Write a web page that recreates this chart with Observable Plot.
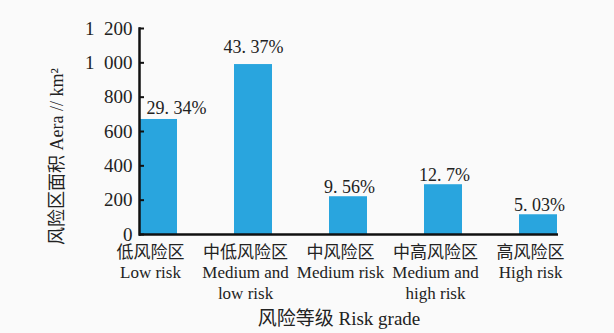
<!DOCTYPE html>
<html><head><meta charset="utf-8">
<script src="https://cdn.jsdelivr.net/npm/d3@7"></script>
<script src="https://cdn.jsdelivr.net/npm/@observablehq/plot@0.6"></script>
<style>body{margin:0;background:#fafafa;} svg{display:block}</style>
</head><body><div id="chart"></div>
<script>
const categoriesZh = ["低风险区","中低风险区","中风险区","中高风险区","高风险区"];
const categoriesEn = ["Low risk","Medium and\nlow risk","Medium risk","Medium and\nhigh risk","High risk"];
const areas = [670, 990, 220, 290, 115];
const shares = ["29. 34%","43. 37%","9. 56%","12. 7%","5. 03%"];
const yTicks = [0,200,400,600,800,1000,1200];
const yTickLabels = ["0","200","400","600","800","1\u2002000","1\u2002200"];
const yTitle = "风险区面积 Aera // km²";
const xTitle = "风险等级 Risk grade";

const data = categoriesZh.map((zh,i)=>({zh, en: categoriesEn[i], area: areas[i], share: shares[i], i}));
const font = "'Liberation Serif', 'Noto Sans CJK SC', serif";
const ink = "#222";

const chart = Plot.plot({
  width: 614, height: 333,
  marginLeft: 139, marginRight: 56, marginTop: 28, marginBottom: 99,
  x: {domain: categoriesZh, paddingInner: 0.6, paddingOuter: 0, axis: null},
  y: {domain: [0, 1200], axis: null},
  style: {fontFamily: font, fontSize: "17px", background: "#fafafa", color: ink},
  marks: [
    Plot.barY(data, {x: "zh", y: "area", fill: "#29a5de"}),
    Plot.ruleY([0], {stroke: "#111", strokeWidth: 2.5}),
    Plot.frame({anchor: "left", stroke: "#111", strokeWidth: 2.5}),
    Plot.axisY(yTicks, {tickSize: -5, tickPadding: 12, strokeWidth: 2, stroke: "#111",
      tickFormat: d => yTickLabels[yTicks.indexOf(d)], fontSize: 19, fill: ink, label: null}),
    Plot.text(data.filter(d => d.i === 0), {x: "zh", y: "area", text: "share", lineAnchor: "bottom", dy: -5, dx: 18, fill: ink, fontSize: 18}),
    Plot.text(data.filter(d => d.i === 1), {x: "zh", y: "area", text: "share", lineAnchor: "bottom", dy: -12, fill: ink, fontSize: 18}),
    Plot.text(data.filter(d => d.i > 1), {x: "zh", y: "area", text: "share", lineAnchor: "bottom", dy: -4, dx: 1, fill: ink, fontSize: 18}),
    Plot.text(data, {x: "zh", text: d => d.zh + "\n" + d.en, frameAnchor: "bottom", lineAnchor: "top", dy: 9, dx: -8, lineHeight: 1.2, fill: ink}),
    Plot.text([yTitle], {frameAnchor: "left", textAnchor: "middle", rotate: -90, dx: -82, dy: 25, fill: ink, fontSize: 18}),
    Plot.text([xTitle], {frameAnchor: "bottom", dy: 90, dx: -10, fill: ink, fontSize: 19})
  ]
});
document.getElementById("chart").appendChild(chart);
</script>
</body></html>
